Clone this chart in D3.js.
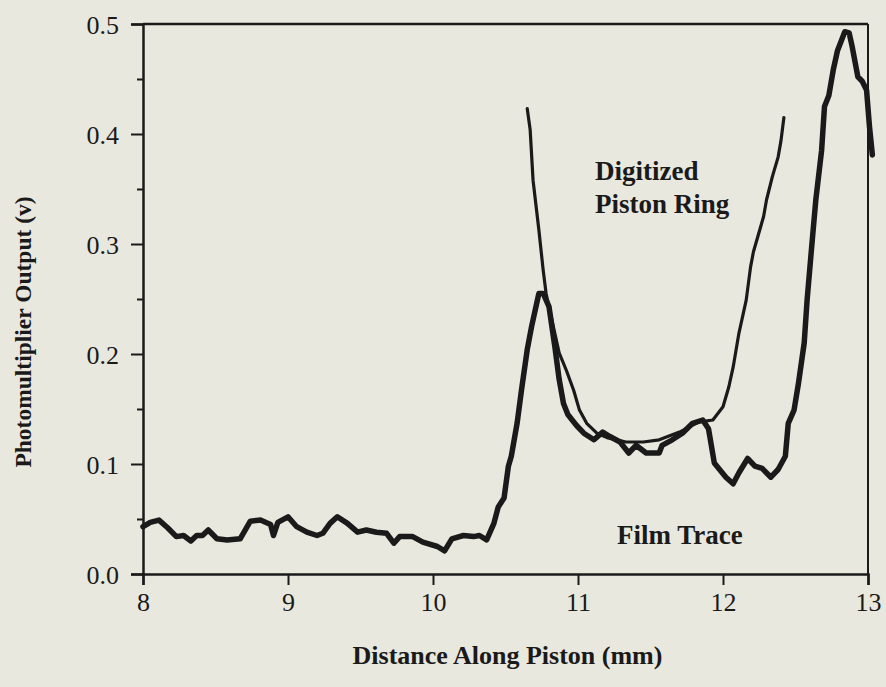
<!DOCTYPE html>
<html><head><meta charset="utf-8">
<script src="https://cdn.jsdelivr.net/npm/d3@7"></script>
<style>
html,body{margin:0;padding:0;background:#e9e8de;}
svg{display:block;}
text{font-family:"Liberation Serif","Times New Roman",serif;fill:#1a1a1a;}
</style></head>
<body>
<svg id="chart" width="886" height="687"></svg>
<script>
// Data
const xTicks = [8, 9, 10, 11, 12, 13];
const yTicks = [0.0, 0.1, 0.2, 0.3, 0.4, 0.5];
const yMinorTicks = [0.05, 0.15, 0.25, 0.35, 0.45];

const filmX = [8.00,8.05,8.11,8.17,8.23,8.28,8.33,8.37,8.41,8.45,8.51,8.58,8.67,8.74,8.81,8.88,8.90,8.93,9.00,9.06,9.13,9.20,9.24,9.29,9.34,9.41,9.48,9.54,9.61,9.68,9.73,9.77,9.86,9.93,10.03,10.08,10.13,10.21,10.28,10.32,10.37,10.42,10.45,10.49,10.52,10.54,10.58,10.61,10.65,10.68,10.72,10.73,10.76,10.80,10.82,10.84,10.87,10.90,10.93,10.99,11.04,11.11,11.17,11.22,11.29,11.35,11.40,11.47,11.56,11.58,11.65,11.72,11.79,11.86,11.90,11.94,12.02,12.07,12.11,12.17,12.22,12.27,12.33,12.38,12.43,12.45,12.49,12.52,12.56,12.58,12.61,12.64,12.68,12.70,12.73,12.76,12.79,12.84,12.87,12.89,12.93,12.96,12.99,13.01,13.03];
const filmY = [0.043,0.047,0.049,0.042,0.034,0.035,0.030,0.035,0.035,0.040,0.032,0.031,0.032,0.048,0.049,0.045,0.035,0.047,0.052,0.043,0.038,0.035,0.037,0.046,0.052,0.046,0.038,0.040,0.038,0.037,0.028,0.034,0.034,0.029,0.025,0.021,0.032,0.035,0.034,0.035,0.031,0.046,0.061,0.069,0.098,0.107,0.137,0.167,0.204,0.225,0.249,0.255,0.255,0.243,0.225,0.207,0.177,0.155,0.145,0.135,0.128,0.122,0.129,0.125,0.120,0.110,0.117,0.110,0.110,0.117,0.122,0.128,0.137,0.140,0.132,0.101,0.088,0.082,0.092,0.105,0.098,0.096,0.088,0.095,0.107,0.137,0.149,0.173,0.210,0.249,0.295,0.340,0.385,0.425,0.435,0.458,0.476,0.493,0.492,0.480,0.452,0.448,0.440,0.407,0.381];

const ringX = [10.65,10.67,10.69,10.73,10.76,10.78,10.83,10.87,10.92,10.97,11.01,11.06,11.13,11.20,11.33,11.45,11.56,11.70,11.83,11.93,12.00,12.04,12.07,12.11,12.16,12.19,12.21,12.28,12.30,12.34,12.38,12.40,12.42];
const ringY = [0.423,0.404,0.358,0.313,0.276,0.255,0.225,0.201,0.185,0.167,0.149,0.137,0.128,0.124,0.120,0.120,0.122,0.129,0.138,0.140,0.152,0.170,0.188,0.219,0.249,0.279,0.293,0.325,0.340,0.361,0.379,0.394,0.415];

const xLabel = "Distance Along Piston (mm)";
const yLabel = "Photomultiplier Output (v)";
const ringLabel = ["Digitized", "Piston Ring"];
const filmLabel = "Film Trace";

(function () {
const svg = d3.select("#chart");
const mLeft = 143, mRight = 868, mTop = 24, mBottom = 574;
const x = d3.scaleLinear().domain([8, 13]).range([mLeft, mRight]);
const y = d3.scaleLinear().domain([0, 0.5]).range([mBottom, mTop]);
const ink = "#1a1a1a";

// frame
svg.append("line").attr("x1", mLeft).attr("x2", mRight).attr("y1", mTop).attr("y2", mTop)
  .attr("stroke", ink).attr("stroke-width", 2.5);
svg.append("line").attr("x1", mRight).attr("x2", mRight).attr("y1", mTop).attr("y2", mBottom)
  .attr("stroke", ink).attr("stroke-width", 2);

// x axis
const xAxis = d3.axisBottom(x).tickValues(xTicks).tickFormat(d3.format("d")).tickSize(11).tickPadding(8);
const gx = svg.append("g").attr("transform", `translate(0,${mBottom})`).call(xAxis);
gx.select(".domain").attr("stroke", ink).attr("stroke-width", 2.5);
gx.selectAll(".tick line").attr("stroke", ink).attr("stroke-width", 2);
gx.selectAll(".tick text").attr("font-size", 26).attr("fill", ink);

// y axis
const yAxis = d3.axisLeft(y).tickValues(yTicks).tickFormat(d3.format(".1f")).tickSize(12).tickPadding(12);
const gy = svg.append("g").attr("transform", `translate(${mLeft},0)`).call(yAxis);
gy.select(".domain").attr("stroke", ink).attr("stroke-width", 2.5);
gy.selectAll(".tick line").attr("stroke", ink).attr("stroke-width", 2);
gy.selectAll(".tick text").attr("font-size", 26).attr("fill", ink).attr("dy", "0.36em");
const yMinor = d3.axisLeft(y).tickValues(yMinorTicks).tickFormat("").tickSize(6);
const gym = svg.append("g").attr("transform", `translate(${mLeft},0)`).call(yMinor);
gym.select(".domain").remove();
gym.selectAll(".tick line").attr("stroke", ink).attr("stroke-width", 2);

// lines
const line = d3.line().x(d => x(d[0])).y(d => y(d[1])).curve(d3.curveLinear);
const film = filmX.map((v, i) => [v, filmY[i]]);
const ring = ringX.map((v, i) => [v, ringY[i]]);
svg.append("path").datum(film).attr("d", line).attr("fill", "none")
  .attr("stroke", ink).attr("stroke-width", 5.5).attr("stroke-linejoin", "round").attr("stroke-linecap", "round");
svg.append("path").datum(ring).attr("d", line).attr("fill", "none")
  .attr("stroke", ink).attr("stroke-width", 3.2).attr("stroke-linejoin", "round").attr("stroke-linecap", "round");

// annotations
svg.append("text").attr("x", 595).attr("y", 180).attr("font-size", 27).attr("font-weight", "bold").text(ringLabel[0]);
svg.append("text").attr("x", 595).attr("y", 213).attr("font-size", 27).attr("font-weight", "bold").text(ringLabel[1]);
svg.append("text").attr("x", 617).attr("y", 544).attr("font-size", 27).attr("font-weight", "bold").text(filmLabel);

// axis titles
svg.append("text").attr("x", (mLeft + mRight) / 2 + 2).attr("y", 664).attr("text-anchor", "middle")
  .attr("font-size", 26).attr("font-weight", "bold").text(xLabel);
svg.append("text").attr("transform", "translate(31,332) rotate(-90)").attr("text-anchor", "middle")
  .attr("font-size", 23.5).attr("font-weight", "bold").text(yLabel);
})();
</script>
</body></html>
